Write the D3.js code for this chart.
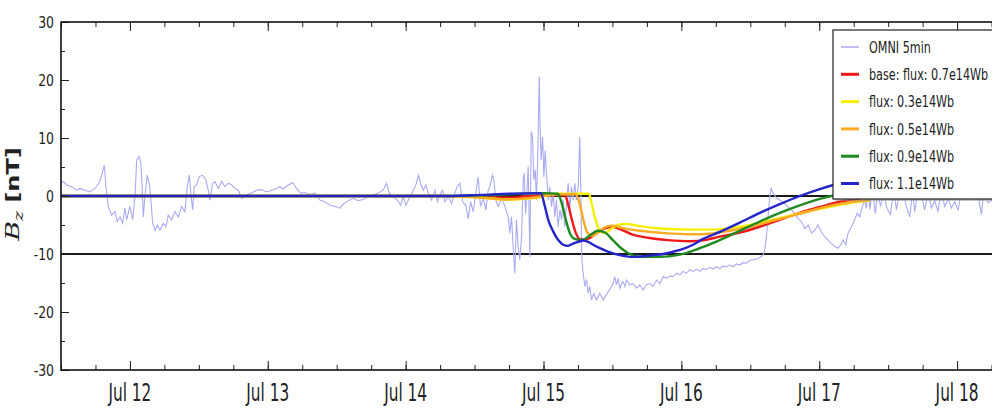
<!DOCTYPE html>
<html>
<head>
<meta charset="utf-8">
<script src="https://cdn.jsdelivr.net/npm/d3@7"></script>
<style>
  body { margin: 0; background: #fff; }
  svg { display: block; }
</style>
</head>
<body>
<svg id="chart" width="992" height="410"></svg>
<script>
// ---- data: [day of July 2012 (UTC, fractional), Bz in nT] ----
const omniSeries = [
  [11.500,2.2],[11.517,2.5],[11.541,1.9],[11.577,1.6],[11.614,1.0],[11.638,1.3],[11.674,1.0],[11.710,0.7],
  [11.746,1.3],[11.783,2.5],[11.814,5.3],[11.826,1.6],[11.843,-1.8],[11.867,-3.3],[11.892,-2.7],[11.908,-4.4],
  [11.928,-3.6],[11.947,-4.7],[11.964,-2.1],[11.976,-4.1],[12.000,-1.8],[12.020,-4.1],[12.037,0],[12.049,6.2],
  [12.066,6.8],[12.080,5.6],[12.090,1.0],[12.097,-3.6],[12.109,0],[12.126,3.6],[12.140,2.2],[12.150,0],
  [12.165,-4.7],[12.182,-5.9],[12.199,-5.0],[12.218,-5.9],[12.242,-4.7],[12.261,-5.3],[12.278,-3.3],[12.302,-4.1],
  [12.327,-2.7],[12.351,-3.6],[12.375,-1.8],[12.399,-2.7],[12.416,1.6],[12.431,3.6],[12.443,0.2],[12.455,-2.4],
  [12.467,1.6],[12.484,1.9],[12.503,3.3],[12.527,3.6],[12.551,2.8],[12.568,1.0],[12.580,-0.7],[12.600,2.2],
  [12.617,2.5],[12.641,1.3],[12.665,2.5],[12.689,1.6],[12.713,2.2],[12.738,1.9],[12.762,1.3],[12.786,1.0],
  [12.810,-0.4],[12.846,0.2],[12.882,0.5],[12.919,1.0],[12.955,1.1],[12.991,0.7],[13.028,1.0],[13.064,1.3],
  [13.088,1.6],[13.112,1.2],[13.149,1.9],[13.180,2.3],[13.209,1.3],[13.238,0.5],[13.269,0.6],[13.306,0.3],
  [13.342,0.5],[13.378,-0.7],[13.414,-1.0],[13.451,-1.6],[13.487,-1.8],[13.523,-2.1],[13.552,-1.3],[13.584,-0.8],
  [13.620,-0.4],[13.656,-0.8],[13.692,-0.6],[13.729,-0.1],[13.765,0.2],[13.801,0.5],[13.837,1.0],[13.862,2.2],
  [13.881,0.5],[13.910,-0.1],[13.939,-0.7],[13.963,-1.6],[13.983,-0.1],[14.002,-1.6],[14.026,-0.4],[14.050,0.7],
  [14.074,1.9],[14.094,3.6],[14.108,2.2],[14.128,1.0],[14.147,1.9],[14.164,0.5],[14.188,-0.7],[14.212,1.0],
  [14.231,-1.0],[14.248,0.2],[14.268,1.0],[14.285,-1.0],[14.309,-0.1],[14.333,-1.3],[14.357,0.5],[14.374,1.6],
  [14.393,2.2],[14.413,-1.0],[14.437,-1.6],[14.454,-3.9],[14.471,-1.0],[14.490,-2.7],[14.509,0.5],[14.526,3.3],
  [14.543,-1.8],[14.563,-0.4],[14.582,-2.4],[14.599,1.0],[14.611,1.6],[14.630,3.6],[14.640,2.8],[14.654,-0.7],
  [14.671,-1.8],[14.696,-0.4],[14.720,-1.8],[14.744,-3.6],[14.756,-6.4],[14.768,-3.6],[14.780,-8.7],[14.792,-13.3],
  [14.804,-4.1],[14.816,-8.7],[14.828,-11.0],[14.841,-7.0],[14.853,2.8],[14.860,3.9],[14.870,-3.0],[14.877,-0.7],
  [14.889,5.1],[14.901,-10.5],[14.911,11.1],[14.920,10.2],[14.930,2.8],[14.940,4.5],[14.949,-0.7],[14.959,7.4],
  [14.969,20.6],[14.976,11.4],[14.983,6.2],[14.993,10.2],[15.003,3.3],[15.012,7.9],[15.022,3.9],[15.034,-0.7],
  [15.046,1.6],[15.058,-1.8],[15.070,0.5],[15.082,-3.6],[15.094,-0.7],[15.106,-5.3],[15.119,-2.4],[15.131,-4.1],
  [15.143,-0.7],[15.155,-5.3],[15.167,-1.3],[15.179,2.2],[15.191,-2.4],[15.203,1.6],[15.215,-0.7],[15.227,2.2],
  [15.239,-0.7],[15.252,1.6],[15.263,10.2],[15.271,0.5],[15.278,-11.0],[15.288,-13.3],[15.300,-15.6],[15.312,-14.4],
  [15.324,-16.8],[15.336,-15.6],[15.348,-17.9],[15.365,-16.8],[15.384,-17.9],[15.408,-16.8],[15.433,-17.9],[15.457,-17.0],
  [15.481,-16.1],[15.505,-15.1],[15.517,-13.9],[15.529,-15.3],[15.542,-14.2],[15.554,-15.9],[15.566,-15.1],[15.578,-14.8],
  [15.590,-15.6],[15.602,-14.5],[15.626,-15.3],[15.650,-15.1],[15.675,-15.9],[15.699,-15.3],[15.723,-16.2],[15.747,-15.3],
  [15.771,-15.1],[15.795,-15.6],[15.820,-14.5],[15.844,-15.1],[15.868,-13.9],[15.892,-14.2],[15.916,-13.8],[15.940,-13.9],
  [15.965,-13.3],[15.989,-13.6],[16.013,-13.0],[16.037,-13.3],[16.061,-12.7],[16.085,-13.0],[16.110,-12.6],[16.134,-13.0],
  [16.158,-12.5],[16.182,-12.7],[16.206,-12.3],[16.230,-12.6],[16.255,-12.2],[16.279,-12.5],[16.303,-12.1],[16.327,-12.2],
  [16.351,-11.9],[16.375,-12.2],[16.400,-11.7],[16.424,-11.9],[16.448,-11.5],[16.472,-11.6],[16.496,-11.1],[16.520,-11.0],
  [16.545,-10.9],[16.569,-10.6],[16.593,-10.2],[16.605,-9.3],[16.617,-7.0],[16.629,-3.6],[16.641,-0.1],[16.651,1.3],
  [16.666,0.5],[16.690,-0.4],[16.714,-0.7],[16.762,-1.6],[16.811,-2.7],[16.847,-3.9],[16.871,-4.4],[16.895,-5.6],
  [16.919,-5.0],[16.944,-6.4],[16.968,-5.9],[16.992,-5.0],[17.016,-6.2],[17.040,-7.0],[17.064,-7.6],[17.089,-8.2],
  [17.113,-8.7],[17.137,-9.0],[17.156,-8.4],[17.173,-7.6],[17.193,-8.4],[17.209,-6.4],[17.234,-5.3],[17.258,-4.1],
  [17.275,-3.0],[17.294,-3.6],[17.313,-1.8],[17.330,-0.7],[17.342,-2.1],[17.355,1.5],[17.367,-2.3],[17.386,1.2],
  [17.407,-3.0],[17.424,0.8],[17.444,-1.8],[17.468,0.5],[17.491,-2.1],[17.516,-3.2],[17.540,1.0],[17.560,-2.4],
  [17.588,1.4],[17.612,0.2],[17.632,-1.8],[17.657,-3.6],[17.676,0.6],[17.693,-2.7],[17.717,1.2],[17.741,0.2],
  [17.765,-2.4],[17.790,0.5],[17.814,-2.1],[17.838,-0.8],[17.862,-2.7],[17.886,1.0],[17.910,-1.8],[17.935,-0.5],
  [17.959,-2.1],[17.983,-1.0],[18.007,-2.4],[18.031,0.6],[18.068,-0.3],[18.116,0.5],[18.152,0.2],[18.177,-3.2],
  [18.193,0.8],[18.225,-1.2],[18.249,-0.8]
];

// model runs, one per flux-rope flux
const fluxBase07 = [
  [11.5,0],[14.3,0],[14.55,-0.2],[14.75,-0.3],[14.95,0.1],[15.155,0.2],[15.177,-1.3],[15.206,-4.1],
  [15.235,-6.4],[15.271,-7.5],[15.322,-7.4],[15.38,-6.5],[15.445,-5.6],[15.496,-5.3],[15.554,-5.7],[15.641,-6.6],
  [15.757,-7.2],[15.902,-7.6],[16.061,-7.8],[16.17,-7.6],[16.279,-7.0],[16.424,-6.3],[16.569,-5.3],[16.714,-4.1],
  [16.859,-2.9],[17.004,-1.9],[17.15,-1.0],[17.3,-0.5]
];
const flux03 = [
  [11.5,0],[14.3,0],[14.55,-0.3],[14.75,-0.6],[14.95,-0.3],[15.1,0.4],[15.329,0.4],[15.351,-1.5],
  [15.38,-4.3],[15.409,-6.0],[15.445,-6.4],[15.489,-5.7],[15.539,-5.0],[15.597,-4.8],[15.699,-5.2],[15.844,-5.6],
  [16.061,-5.8],[16.243,-5.8],[16.388,-5.4],[16.533,-4.8],[16.678,-4.0],[16.823,-3.2],[16.968,-2.4],[17.113,-1.7],
  [17.258,-1.1],[17.367,-0.8]
];
const flux05 = [
  [11.5,0],[14.3,0],[14.55,-0.3],[14.75,-0.6],[14.95,-0.2],[15.1,0.3],[15.235,0.3],[15.264,-1.5],
  [15.293,-4.5],[15.322,-6.5],[15.358,-6.9],[15.394,-6.3],[15.445,-5.4],[15.496,-5.1],[15.568,-5.5],[15.699,-6.0],
  [15.88,-6.4],[16.061,-6.6],[16.206,-6.5],[16.351,-6.0],[16.496,-5.3],[16.641,-4.4],[16.786,-3.5],[16.931,-2.6],
  [17.076,-1.7],[17.221,-1.1],[17.367,-0.7]
];
const flux09 = [
  [11.5,0],[14.3,0],[14.55,0.1],[14.75,0.3],[15.0,0.5],[15.104,0.4],[15.133,-1.3],[15.162,-4.1],
  [15.191,-6.4],[15.227,-7.4],[15.278,-7.6],[15.336,-6.8],[15.394,-6.0],[15.445,-6.3],[15.503,-7.6],[15.568,-9.1],
  [15.626,-10.0],[15.699,-10.5],[15.844,-10.5],[15.989,-10.1],[16.134,-9.0],[16.279,-7.6],[16.424,-6.0],[16.569,-4.4],
  [16.714,-2.9],[16.859,-1.6],[17.004,-0.5],[17.15,0.3],[17.3,0.8]
];
const flux11 = [
  [11.5,0],[14.3,0],[14.55,0.2],[14.75,0.4],[14.98,0.5],[15.01,-1.8],[15.034,-4.1],[15.07,-6.1],
  [15.107,-7.6],[15.143,-8.4],[15.179,-8.6],[15.215,-8.2],[15.251,-7.9],[15.288,-7.7],[15.324,-7.9],[15.36,-8.4],
  [15.409,-9.0],[15.457,-9.5],[15.505,-9.9],[15.554,-10.2],[15.602,-10.4],[15.65,-10.5],[15.723,-10.4],[15.795,-10.2],
  [15.868,-10.0],[15.94,-9.6],[16.013,-9.1],[16.085,-8.4],[16.158,-7.4],[16.279,-6.2],[16.424,-4.6],[16.569,-2.9],
  [16.714,-1.4],[16.859,0],[17.004,1.2],[17.15,2.2],[17.3,3.0]
];

const seriesNames = ["OMNI 5min", "base: flux: 0.7e14Wb", "flux: 0.3e14Wb", "flux: 0.5e14Wb", "flux: 0.9e14Wb", "flux: 1.1e14Wb"];
const seriesColors = ["#aaaaf2", "#f01818", "#f5f000", "#f9ab22", "#1f8a1f", "#2424c8"];
const yTickValues = [-30, -20, -10, 0, 10, 20, 30];
const referenceLevels = [0, -10];

// ---- layout ----
const svg = d3.select("#chart");
const plot = { left: 61, top: 22, right: 1026, bottom: 370 };
const t0 = Date.UTC(2012, 6, 1);
const toDate = d => new Date(t0 + (d - 1) * 864e5);

const x = d3.scaleUtc().domain([toDate(11.5), toDate(18.5)]).range([plot.left, plot.right]);
const y = d3.scaleLinear().domain([-30, 30]).range([plot.bottom, plot.top]);

svg.append("defs").append("clipPath").attr("id", "plotClip")
  .append("rect").attr("x", plot.left).attr("y", plot.top)
  .attr("width", plot.right - plot.left).attr("height", plot.bottom - plot.top);

const gData = svg.append("g").attr("clip-path", "url(#plotClip)");

// horizontal reference lines at 0 and -10 nT
gData.selectAll("line.ref").data(referenceLevels).join("line")
  .attr("class", "ref")
  .attr("x1", plot.left).attr("x2", plot.right)
  .attr("y1", d => y(d)).attr("y2", d => y(d))
  .attr("stroke", "#1a1a1a").attr("stroke-width", 2.2);

const omniLine = d3.line().x(d => x(toDate(d[0]))).y(d => y(d[1]));
const modelLine = d3.line().x(d => x(toDate(d[0]))).y(d => y(d[1])).curve(d3.curveMonotoneX);

gData.append("path").datum(omniSeries)
  .attr("d", omniLine).attr("fill", "none")
  .attr("stroke", seriesColors[0]).attr("stroke-width", 1.1);

const models = [fluxBase07, flux03, flux05, flux09, flux11];
models.forEach((s, i) => {
  gData.append("path").datum(s)
    .attr("d", modelLine).attr("fill", "none")
    .attr("stroke", seriesColors[i + 1]).attr("stroke-width", 2.4)
    .attr("stroke-linejoin", "round");
});

// ---- axes: inward ticks, labels drawn separately ----
function styleAxis(g) {
  g.select(".domain").remove();
  g.selectAll(".tick line").attr("stroke", "#222").attr("stroke-width", 1);
  g.selectAll(".tick text").remove();
}

svg.append("g").attr("transform", `translate(0,${plot.bottom})`)
  .call(d3.axisBottom(x).ticks(d3.utcHour.every(6)).tickSize(-5)).call(styleAxis);
svg.append("g").attr("transform", `translate(0,${plot.bottom})`)
  .call(d3.axisBottom(x).ticks(d3.utcDay.every(1)).tickSize(-9)).call(styleAxis);
svg.append("g").attr("transform", `translate(0,${plot.top})`)
  .call(d3.axisTop(x).ticks(d3.utcHour.every(6)).tickSize(-5)).call(styleAxis);
svg.append("g").attr("transform", `translate(0,${plot.top})`)
  .call(d3.axisTop(x).ticks(d3.utcDay.every(1)).tickSize(-9)).call(styleAxis);
svg.append("g").attr("transform", `translate(${plot.left},0)`)
  .call(d3.axisLeft(y).tickValues(d3.range(-30, 31, 5)).tickSize(-4)).call(styleAxis);
svg.append("g").attr("transform", `translate(${plot.left},0)`)
  .call(d3.axisLeft(y).tickValues(yTickValues).tickSize(-8)).call(styleAxis);

// frame
svg.append("rect")
  .attr("x", plot.left).attr("y", plot.top)
  .attr("width", plot.right - plot.left).attr("height", plot.bottom - plot.top)
  .attr("fill", "none").attr("stroke", "#111").attr("stroke-width", 1.6);

// x tick labels (condensed)
const fmt = d3.utcFormat("%b %-d");
svg.append("g").selectAll("text")
  .data(x.ticks(d3.utcDay.every(1)).filter(d => x(d) < 992))
  .join("text")
  .attr("transform", d => `translate(${x(d)},401) scale(0.64,1)`)
  .attr("text-anchor", "middle")
  .attr("font-family", "DejaVu Sans")
  .attr("font-size", 24)
  .attr("fill", "#222")
  .text(fmt);

// y tick labels
svg.append("g").selectAll("text")
  .data(yTickValues)
  .join("text")
  .attr("transform", d => `translate(54,${y(d)}) scale(0.78,1)`)
  .attr("text-anchor", "end")
  .attr("dy", "0.36em")
  .attr("font-family", "DejaVu Sans")
  .attr("font-size", 16)
  .attr("fill", "#222")
  .text(d => d < 0 ? "-" + Math.abs(d) : String(d));

// y axis title: B_z [nT]
const yTitle = svg.append("text")
  .attr("transform", "translate(19,194) scale(0.72,1) rotate(-90)")
  .attr("text-anchor", "middle")
  .attr("fill", "#222");
yTitle.append("tspan").attr("font-family", "DejaVu Serif").attr("font-style", "italic")
  .attr("font-size", 27).text("B");
yTitle.append("tspan").attr("font-family", "DejaVu Serif").attr("font-style", "italic")
  .attr("font-size", 19).attr("dy", 5).text("z");
yTitle.append("tspan").attr("font-family", "DejaVu Sans").attr("font-weight", "bold")
  .attr("font-size", 24).attr("dy", -5).text(" [nT]");

// ---- legend ----
const lg = svg.append("g");
lg.append("rect").attr("x", 835).attr("y", 32).attr("width", 180).attr("height", 169)
  .attr("fill", "#888").attr("opacity", 0.5);
lg.append("rect").attr("x", 833).attr("y", 30).attr("width", 180).attr("height", 169)
  .attr("fill", "#fff").attr("stroke", "#222").attr("stroke-width", 1.2);
const rows = lg.selectAll("g.row").data(seriesNames).join("g")
  .attr("class", "row")
  .attr("transform", (d, i) => `translate(0,${47 + i * 27.3})`);
rows.append("line")
  .attr("x1", 841).attr("x2", 859).attr("y1", 0).attr("y2", 0)
  .attr("stroke", (d, i) => seriesColors[i])
  .attr("stroke-width", (d, i) => i === 0 ? 1.5 : 3);
rows.append("text")
  .attr("transform", "translate(869,0) scale(0.7,1)")
  .attr("dy", "0.36em")
  .attr("font-family", "DejaVu Sans")
  .attr("font-size", 16)
  .attr("fill", "#222")
  .text(d => d);
</script>
</body>
</html>
